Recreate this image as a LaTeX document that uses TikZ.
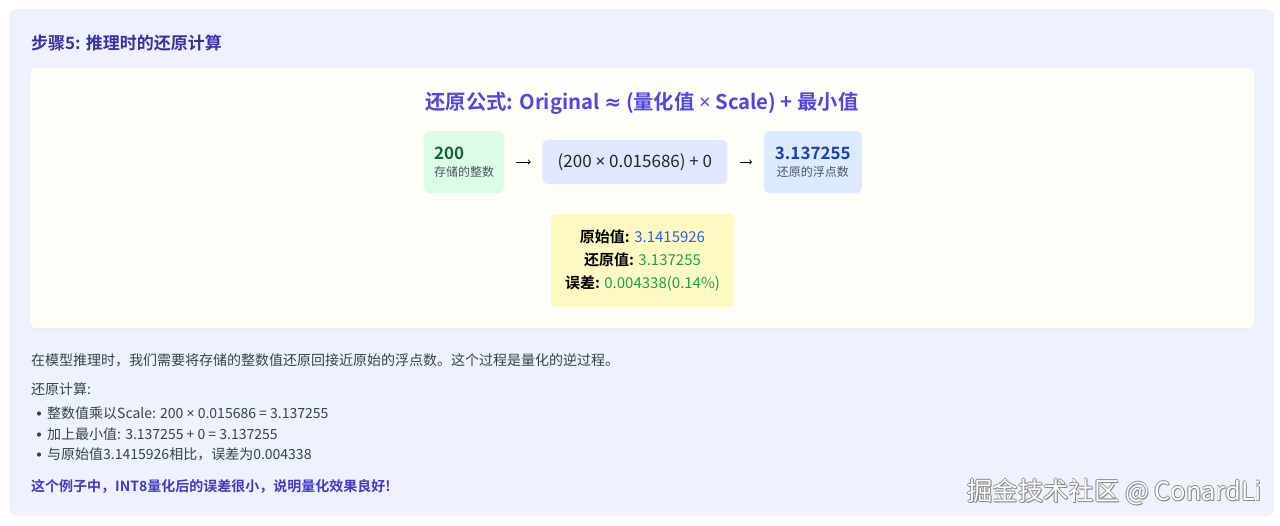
\documentclass[tikz,border=0pt]{standalone}
\usepackage{fontspec}
\setmainfont{Noto Sans CJK SC}[BoldFont={Noto Sans CJK SC Bold}]
\newfontfamily\latinf{Noto Sans}
\newfontfamily\symf{DejaVu Sans}
\usepackage{tikz}
\usetikzlibrary{arrows,positioning}

\definecolor{panelbg}{HTML}{EEF2FF}
\definecolor{cardbg}{HTML}{FEFEF8}
\definecolor{titlecol}{HTML}{3730A3}
\definecolor{formcol}{HTML}{4F46E5}
\definecolor{greenbg}{HTML}{DCFCE7}
\definecolor{greentx}{HTML}{166534}
\definecolor{lavbg}{HTML}{E0E7FF}
\definecolor{bluebg}{HTML}{DBEAFE}
\definecolor{bluetx}{HTML}{1E40AF}
\definecolor{yelbg}{HTML}{FEF9C3}
\definecolor{valblue}{HTML}{2563EB}
\definecolor{valgreen}{HTML}{16A34A}
\definecolor{bodytx}{HTML}{374151}
\definecolor{labtx}{HTML}{4B5563}
\definecolor{notecol}{HTML}{4338CA}

\newcommand{\fs}[1]{\fontsize{#1}{#1}\selectfont}
\newcommand{\mul}{{\latinf ×}}

\begin{document}
\begin{tikzpicture}[x=1pt,y=-1pt,>=to,
		valbox/.style={rounded corners=5pt, inner sep=0pt, align=left},
		line/.style={anchor=west, text=bodytx, font=\fs{14}, inner sep=0pt}]
	\useasboundingbox (0,0) rectangle (1280,525);
	\fill[white] (0,0) rectangle (1280,525);
	\fill[panelbg, rounded corners=8pt] (9,9) rectangle (1274,516);
	\fill[black!7, rounded corners=6pt] (30,69.5) rectangle (1254,330);
	\fill[cardbg, rounded corners=6pt] (30,68) rectangle (1254,328);

	\node[anchor=west, inner sep=0pt, text=titlecol, font=\bfseries\fs{17}] (title) at (31,43) {步骤5: 推理时的还原计算};
	\node[inner sep=0pt, text=formcol, font=\bfseries\fs{20.3}] (formula) at (642,103) {还原公式: Original {\symf\bfseries ≈} (量化值 {\latinf\bfseries ×} Scale) + 最小值};

	\node[valbox, fill=greenbg, minimum width=80pt, minimum height=62pt, text width=60pt]
		(stored) at (464,162) {\textcolor{greentx}{\bfseries\fs{17}200}\\[5pt]\textcolor{labtx}{\fs{12}存储的整数}};
	\node[valbox, fill=lavbg, minimum width=185pt, minimum height=44pt, align=center, font=\fs{17}, text=black!85]
		(calc) [right=38pt of stored] {(200 \mul{} 0.015686) + 0};
	\node[valbox, fill=bluebg, minimum width=98pt, minimum height=62pt, align=center]
		(restored) [right=36pt of calc] {\textcolor{bluetx}{\bfseries\fs{17}3.137255}\\[5pt]\textcolor{labtx}{\fs{12}还原的浮点数}};

	\draw[->, line width=0.9pt, shorten >=11.5pt, shorten <=12pt]
		(stored) edge (calc)
		(calc) edge (restored);

	\node[valbox, fill=yelbg, minimum width=183pt, minimum height=93pt, align=center, font=\fs{15}]
		(compare) at (642.5,260.5) {{\bfseries 原始值:} \textcolor{valblue}{3.1415926}\\[8pt]
		{\bfseries 还原值:} \textcolor{valgreen}{3.137255}\\[8pt]
		{\bfseries 误差:} \textcolor{valgreen}{0.004338(0.14\%)}};

	\node[line] (intro) at (31,360) {在模型推理时，我们需要将存储的整数值还原回接近原始的浮点数。这个过程是量化的逆过程。};
	\node[line] (steps) at (31,389) {还原计算:};
	\node[line] (item1) at (47,413) {整数值乘以Scale: 200 \mul{} 0.015686 = 3.137255};
	\node[line] (item2) at (47,434) {加上最小值: 3.137255 + 0 = 3.137255};
	\node[line] (item3) at (47,454) {与原始值3.1415926相比，误差为0.004338};
	\foreach \yy in {413,434,454}
		\fill[bodytx] (39,\yy+0.5) circle (2.1pt);
	\node[line, text=notecol, font=\bfseries\fs{14}] (note) at (31,486) {这个例子中，INT8量化后的误差很小，说明量化效果良好!};

	\foreach \dx/\dy [count=\i] in {0.8/0, -0.8/0, 0/0.8, 0/-0.8, 1/1}
		\node[anchor=east, inner sep=0pt, text=black!45, font=\fs{25.3}] (markshadow\i) at (1262+\dx,492+\dy) {掘金技术社区 @ ConardLi};
	\node[anchor=east, inner sep=0pt, text=white, font=\fs{25.3}] (mark) at (1262,492) {掘金技术社区 @ ConardLi};
\end{tikzpicture}
\end{document}
